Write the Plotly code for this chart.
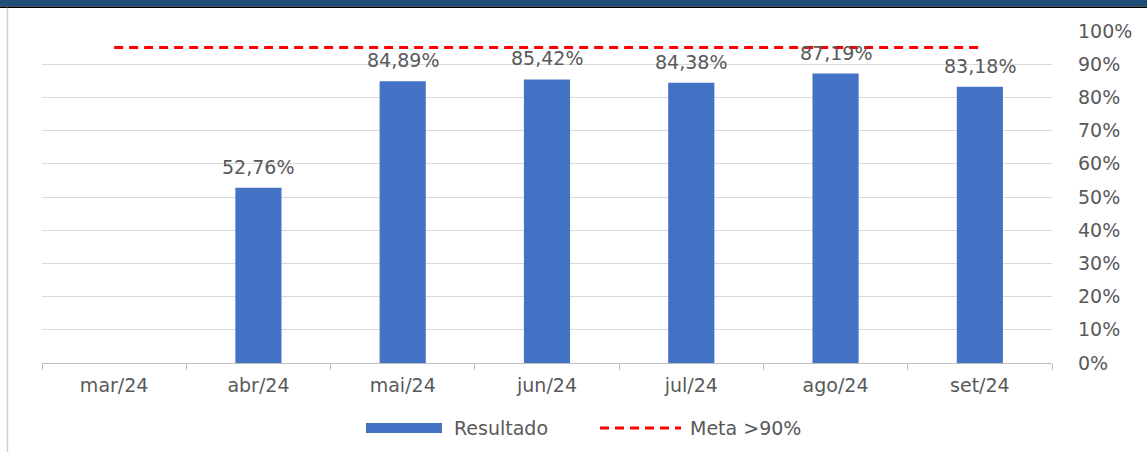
import plotly.graph_objects as go

categories = ["mar/24", "abr/24", "mai/24", "jun/24", "jul/24", "ago/24", "set/24"]
resultado = [None, 0.5276, 0.8489, 0.8542, 0.8438, 0.8719, 0.8318]
meta = [0.95, 0.95, 0.95, 0.95, 0.95, 0.95, 0.95]
y_ticks = [0, 0.1, 0.2, 0.3, 0.4, 0.5, 0.6, 0.7, 0.8, 0.9, 1.0]
y_tick_labels = ["0%", "10%", "20%", "30%", "40%", "50%", "60%", "70%", "80%", "90%", "100%"]

FONT = "DejaVu Sans"
GRAY = "#595959"
BLUE = "#4472C4"
RED = "#FF0000"

def fmt(v):
    return f"{v*100:.2f}".replace(".", ",") + "%"

fig = go.Figure()
fig.add_trace(go.Bar(x=categories, y=resultado, name="Resultado",
                     marker=dict(color=BLUE, line=dict(width=0)), showlegend=False))
fig.add_trace(go.Scatter(x=categories, y=meta, name="Meta >90%", mode="lines",
                         line=dict(color=RED, width=3, dash="9px,6px"), showlegend=False))

annotations = []
for c, v in zip(categories, resultado):
    if v is None:
        continue
    annotations.append(dict(x=c, y=v, xref="x", yref="y", text=fmt(v), showarrow=False,
                            yanchor="bottom", yshift=8,
                            font=dict(family=FONT, size=19, color=GRAY)))

# manual legend
annotations.append(dict(x=0.406, y=-0.196, xref="paper", yref="paper", text="Resultado",
                        showarrow=False, xanchor="left", yanchor="middle",
                        font=dict(family=FONT, size=19, color=GRAY)))
annotations.append(dict(x=0.6396, y=-0.196, xref="paper", yref="paper", text="Meta >90%",
                        showarrow=False, xanchor="left", yanchor="middle",
                        font=dict(family=FONT, size=19, color=GRAY)))

shapes = [
    dict(type="rect", xref="paper", yref="paper", x0=0.3208, x1=0.396, y0=-0.2108, y1=-0.1807,
         fillcolor=BLUE, line=dict(width=0)),
    dict(type="line", xref="paper", yref="paper", x0=0.5525, x1=0.6327, y0=-0.196, y1=-0.196,
         line=dict(color=RED, width=3, dash="9px,6px")),
    # top navy bar
    dict(type="rect", xref="paper", yref="paper", x0=-0.06, x1=1.2, y0=1.0735, y1=1.12,
         fillcolor="#1F4E79", line=dict(width=0), layer="above"),
    dict(type="line", xref="paper", yref="paper", x0=-0.06, x1=1.2, y0=1.0715, y1=1.0715,
         line=dict(color="#000000", width=1.5)),
    # left border
    dict(type="line", xref="paper", yref="paper", x0=-0.0342, x1=-0.0342, y0=1.07, y1=-0.3,
         line=dict(color="#D0D0D0", width=1.5)),
]

fig.update_layout(
    width=1147, height=452,
    margin=dict(l=42, r=95, t=31, b=89),
    paper_bgcolor="white", plot_bgcolor="white",
    bargap=0.68,
    showlegend=False,
    annotations=annotations,
    shapes=shapes,
    font=dict(family=FONT, size=19, color=GRAY),
    xaxis=dict(type="category", showline=True, linecolor="#BFBFBF", linewidth=1,
               ticks="outside", tickson="boundaries", ticklen=6, tickcolor="#BFBFBF",
               showgrid=False, tickfont=dict(family=FONT, size=19, color=GRAY),
               ticklabelstandoff=5),
    yaxis=dict(side="right", range=[0, 1.0], tickvals=y_ticks, ticktext=y_tick_labels,
               showgrid=True, gridcolor="#D9D9D9", gridwidth=1, zeroline=False,
               showline=False, ticks="", tickfont=dict(family=FONT, size=19, color=GRAY),
               ticklabelstandoff=25),
)

fig.write_html("out.html", config={"displayModeBar": False},
               post_script="document.body.style.margin='0';document.body.style.overflow='hidden';")
